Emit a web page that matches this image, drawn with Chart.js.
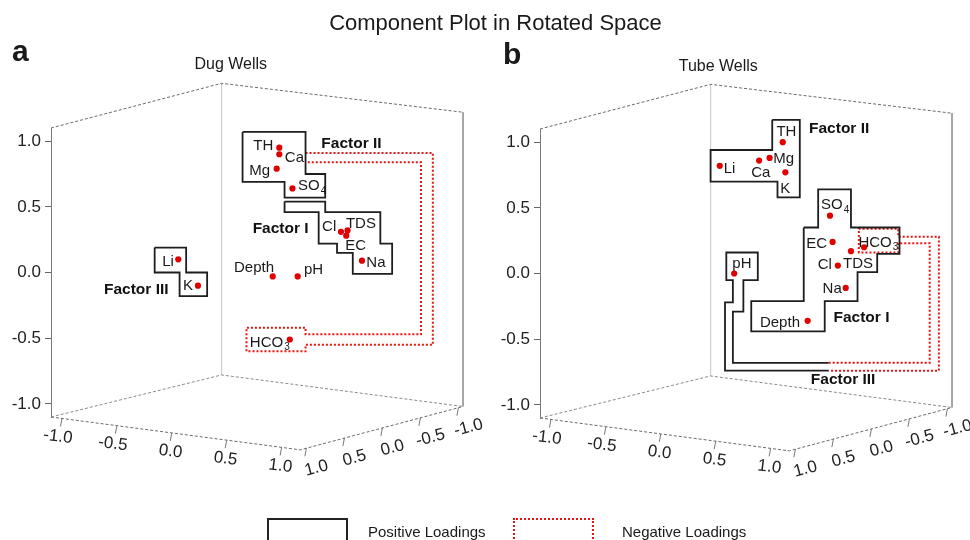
<!DOCTYPE html>
<html>
<head>
<meta charset="utf-8">
<title>Component Plot in Rotated Space</title>
<script src="https://cdn.jsdelivr.net/npm/chart.js@4.4.1/dist/chart.umd.min.js"></script>
<style>
  html, body { margin: 0; padding: 0; background: #fff; }
  body { width: 970px; height: 540px; position: relative; overflow: hidden; font-family: 'Liberation Sans', Arial, sans-serif; color: #1a1a1a; }
  canvas { position: absolute; }
  .abs { position: absolute; white-space: nowrap; }
  .box { position: absolute; box-sizing: border-box; width: 81px; height: 40px; }
</style>
</head>
<body>
<canvas id="dugChart" width="500" height="540" style="left:0;top:0"></canvas>
<canvas id="tubeChart" width="500" height="540" style="left:489px;top:1px"></canvas>

<div class="abs" style="left:495.5px;top:12px;font-size:22px;line-height:22px;transform:translateX(-50%)">Component Plot in Rotated Space</div>
<div class="abs" style="left:12px;top:35.6px;font-size:30px;line-height:30px;font-weight:bold">a</div>
<div class="abs" style="left:503px;top:38.6px;font-size:30px;line-height:30px;font-weight:bold">b</div>
<div class="abs" style="left:230.8px;top:56.2px;font-size:16px;line-height:16px;transform:translateX(-50%)">Dug Wells</div>
<div class="abs" style="left:718.3px;top:58.2px;font-size:16px;line-height:16px;transform:translateX(-50%)">Tube Wells</div>

<div class="box" style="left:267px;top:518px;border:2px solid #222"></div>
<div class="abs" style="left:368px;top:524px;font-size:15px;line-height:15px">Positive Loadings</div>
<div class="box" style="left:513px;top:518px;border:2px dotted #e8140f"></div>
<div class="abs" style="left:622px;top:524px;font-size:15px;line-height:15px">Negative Loadings</div>

<script>
// ---- data ----
const tickValues = [-1.0, -0.5, 0.0, 0.5, 1.0];

// Dug wells: horizontal projected position and vertical loading
const dugNames = ['TH', 'Ca', 'Mg', 'SO4', 'Cl', 'TDS', 'EC', 'Na', 'Li', 'K', 'Depth', 'pH', 'HCO3'];
const dugProjX = [0.64, 0.64, 0.62, 0.74, 1.11, 1.16, 1.15, 1.27, -0.13, 0.02, 0.59, 0.78, 0.72];
const dugLoading = [0.95, 0.90, 0.79, 0.64, 0.31, 0.32, 0.28, 0.09, 0.10, -0.10, -0.03, -0.03, -0.51];

// Tube wells
const tubeNames = ['TH', 'Mg', 'Ca', 'Li', 'K', 'SO4', 'EC', 'HCO3', 'TDS', 'Cl', 'Na', 'pH', 'Depth'];
const tubeProjX = [0.75, 0.65, 0.57, 0.27, 0.77, 1.11, 1.13, 1.37, 1.27, 1.17, 1.23, 0.38, 0.94];
const tubeLoading = [1.00, 0.88, 0.86, 0.82, 0.77, 0.44, 0.24, 0.20, 0.17, 0.06, -0.11, 0.00, -0.36];

// factor group outlines (projected x, loading)
const dugFactor2Pos = [[0.36, 1.07], [0.84, 1.07], [0.84, 0.75], [0.99, 0.75], [0.99, 0.57], [0.68, 0.57], [0.68, 0.69], [0.36, 0.69]];
const dugFactor1Pos = [[0.68, 0.54], [0.99, 0.54], [0.99, 0.46], [1.41, 0.46], [1.41, 0.22], [1.50, 0.22], [1.50, -0.01], [1.20, -0.01], [1.20, 0.15], [1.08, 0.15], [1.08, 0.22], [0.94, 0.22], [0.94, 0.46], [0.68, 0.46]];
const dugFactor3Pos = [[-0.31, 0.19], [-0.07, 0.19], [-0.07, 0.0], [0.09, 0.0], [0.09, -0.18], [-0.12, -0.18], [-0.12, 0.0], [-0.31, 0.0]];
const dugFactor2Neg = [[0.84, 0.91], [1.81, 0.91], [1.81, -0.55], [0.84, -0.55], [0.84, -0.60], [0.39, -0.60], [0.39, -0.42], [0.84, -0.42], [0.84, -0.47], [1.72, -0.47], [1.72, 0.84], [0.84, 0.84]];

const tubeFactor2Pos = [[0.67, 1.17], [0.88, 1.17], [0.88, 0.58], [0.71, 0.58], [0.71, 0.70], [0.20, 0.70], [0.20, 0.94], [0.67, 0.94]];
const tubeFactor1Pos = [[0.91, 0.35], [1.02, 0.35], [1.02, 0.64], [1.27, 0.64], [1.27, 0.35], [1.64, 0.35], [1.64, 0.15], [1.47, 0.15], [1.47, 0.01], [1.32, 0.01], [1.32, -0.21], [1.07, -0.21], [1.07, -0.44], [0.51, -0.44], [0.51, -0.21], [0.91, -0.21]];
const tubeFactor3Pos = [[1.10, -0.74], [0.31, -0.74], [0.31, -0.22], [0.37, -0.22], [0.37, -0.05], [0.32, -0.05], [0.32, 0.16], [0.56, 0.16], [0.56, -0.05], [0.45, -0.05], [0.45, -0.29], [0.37, -0.29], [0.37, -0.68], [1.10, -0.68]];
const tubeFactor2Neg = [[1.10, -0.68], [1.87, -0.68], [1.87, 0.23], [1.63, 0.23], [1.63, 0.16], [1.33, 0.16], [1.33, 0.34], [1.63, 0.34], [1.63, 0.28], [1.94, 0.28], [1.94, -0.74], [1.10, -0.74]];

// 3D box corners in the same projected space
const frameTop = [[-1.1, 1.1], [0.20, 1.44], [2.04, 1.22]];
const frameBackEdge = [[0.20, 1.44], [0.20, -0.78]];
const frameRightEdge = [[2.04, 1.22], [2.04, -1.02]];
const frameFloorBack = [[-1.1, -1.1], [0.20, -0.78], [2.04, -1.02]];
const frameFloorFront = [[-1.1, -1.1], [0.80, -1.35], [2.04, -1.02]];
const floorLeftSpan = [-1.1, 1.17];
const floorRightSpan = [1.08, -1.06];

// ---- layout / style ----
const FONT = "'Liberation Sans', Arial, sans-serif";
const INK = '#1a1a1a';
const RED = '#e8140f';

const dugLabelPos = {
  TH: [-6, -3, 'right'], Ca: [5.5, 2, 'left'], Mg: [-6.6, 0.7, 'right'], SO4: [5.6, -3.5, 'left'],
  Cl: [-4.7, -6, 'right'], TDS: [-1.6, -8, 'left'], EC: [-1, 9, 'left'], Na: [4.4, 1, 'left'],
  Li: [-4.4, 1, 'right'], K: [-5, -0.7, 'right'], Depth: [-18.7, -10, 'center'], pH: [6.3, -7.7, 'left'],
  HCO3: [-40, 2, 'left'],
};
const tubeLabelPos = {
  TH: [3.7, -11, 'center'], Mg: [3.7, 0, 'left'], Ca: [1.7, 11, 'center'], Li: [4, 2, 'left'],
  K: [0, 15, 'center'], SO4: [-9, -12, 'left'], EC: [-5.4, 0.5, 'right'], HCO3: [-5.7, -6, 'left'],
  TDS: [-8, 12, 'left'], Cl: [-6, -2, 'right'], Na: [-4, 0, 'right'], pH: [7.7, -11, 'center'],
  Depth: [-7.7, 0.7, 'right'],
};
const dugFactorLabels = [['Factor I', 0.65, 0.33], ['Factor II', 1.19, 0.98], ['Factor III', -0.45, -0.13]];
const tubeFactorLabels = [['Factor I', 1.35, -0.34], ['Factor II', 1.18, 1.10], ['Factor III', 1.21, -0.81]];

function toPoints(pairs, close) {
  const pts = pairs.map(([x, y]) => ({ x, y }));
  if (close) pts.push({ ...pts[0] });
  return pts;
}

function outline(pairs, close, style) {
  return {
    data: toPoints(pairs, close),
    showLine: true,
    pointRadius: 0,
    pointHoverRadius: 0,
    fill: false,
    clip: false,
    borderJoinStyle: 'miter',
    order: 1,
    ...style,
  };
}

const solidBox = { borderColor: '#1e1e1e', borderWidth: 1.8 };
const dottedBox = { borderColor: RED, borderWidth: 2, borderDash: [2, 2] };
const frameDashed = { borderColor: '#6a6a6a', borderWidth: 1, borderDash: [3, 2], order: 2 };

function frameDatasets() {
  return [
    outline(frameTop, false, frameDashed),
    outline(frameFloorBack, false, { ...frameDashed, borderColor: '#8a8a8a' }),
    outline(frameFloorFront, false, frameDashed),
    outline(frameBackEdge, false, { borderColor: '#cdcdcd', borderWidth: 1, order: 2 }),
    outline(frameRightEdge, false, { borderColor: '#9a9a9a', borderWidth: 1, order: 2 }),
  ];
}

function drawChem(ctx, name, cx, cy, align) {
  const m = name.match(/^(.*?)(\d+)$/);
  const main = m ? m[1] : name;
  const sub = m ? m[2] : '';
  ctx.font = `15px ${FONT}`;
  const wMain = ctx.measureText(main).width;
  ctx.font = `10px ${FONT}`;
  const wSub = sub ? ctx.measureText(sub).width + 1 : 0;
  const total = wMain + wSub;
  let left = cx;
  if (align === 'right') left = cx - total;
  else if (align === 'center') left = cx - total / 2;
  const base = cy + 5.3;
  ctx.textAlign = 'left';
  ctx.textBaseline = 'alphabetic';
  ctx.font = `15px ${FONT}`;
  ctx.fillText(main, left, base);
  if (sub) {
    ctx.font = `10px ${FONT}`;
    ctx.fillText(sub, left + wMain + 1, base + 3.5);
  }
}

function drawFloorAxis(ctx, xs, ys, from, to, span, shift, angle, align) {
  tickValues.forEach((v) => {
    const t = (v - span[0]) / (span[1] - span[0]);
    const px = xs.getPixelForValue(from[0] + t * (to[0] - from[0]));
    const py = ys.getPixelForValue(from[1] + t * (to[1] - from[1]));
    ctx.strokeStyle = '#777';
    ctx.lineWidth = 1;
    ctx.beginPath();
    ctx.moveTo(px, py);
    ctx.lineTo(px - 1.5, py + 8);
    ctx.stroke();
    ctx.save();
    ctx.translate(px + shift[0], py + shift[1]);
    ctx.rotate((angle * Math.PI) / 180);
    ctx.textAlign = align;
    ctx.textBaseline = 'middle';
    ctx.font = `17px ${FONT}`;
    ctx.fillStyle = '#222';
    ctx.fillText(v.toFixed(1), 0, 0);
    ctx.restore();
  });
}

const annotate = {
  id: 'annotate',
  afterDatasetsDraw(chart, args, opts) {
    const { ctx } = chart;
    const xs = chart.scales.x;
    const ys = chart.scales.y;
    ctx.save();
    ctx.fillStyle = INK;
    opts.names.forEach((name, i) => {
      const [dx, dy, align] = opts.labelPos[name];
      drawChem(ctx, name, xs.getPixelForValue(opts.xs[i]) + dx, ys.getPixelForValue(opts.ys[i]) + dy, align);
    });
    ctx.font = `bold 15.5px ${FONT}`;
    ctx.textAlign = 'center';
    ctx.textBaseline = 'middle';
    ctx.fillStyle = '#111';
    opts.factors.forEach(([text, fx, fy]) => {
      ctx.fillText(text, xs.getPixelForValue(fx), ys.getPixelForValue(fy));
    });
    const [lb, front, rb] = frameFloorFront;
    drawFloorAxis(ctx, xs, ys, lb, front, floorLeftSpan, [10.5, 20], 7, 'right');
    drawFloorAxis(ctx, xs, ys, front, rb, floorRightSpan, [10, 20], -15, 'center');
    ctx.restore();
  },
};

function makeChart(canvasId, cfg) {
  const points = {
    data: cfg.xs.map((x, i) => ({ x, y: cfg.ys[i] })),
    pointRadius: 3.1,
    pointHoverRadius: 3.1,
    pointBackgroundColor: '#e00000',
    pointBorderWidth: 0,
    showLine: false,
    clip: false,
    order: 0,
  };
  const boxes = [
    ...cfg.positive.map(([pairs, close]) => outline(pairs, close, solidBox)),
    ...cfg.negative.map((pairs) => outline(pairs, false, dottedBox)),
  ];
  return new Chart(document.getElementById(canvasId), {
    type: 'scatter',
    data: { datasets: [points, ...boxes, ...frameDatasets()] },
    options: {
      responsive: false,
      animation: false,
      devicePixelRatio: 1,
      events: [],
      layout: { padding: { left: 0, right: 37, top: 128, bottom: 123 } },
      plugins: {
        legend: { display: false },
        tooltip: { enabled: false },
        annotate: { names: cfg.names, xs: cfg.xs, ys: cfg.ys, labelPos: cfg.labelPos, factors: cfg.factors },
      },
      scales: {
        x: { type: 'linear', display: false, min: -1.1, max: 2.04 },
        y: {
          type: 'linear',
          min: -1.1,
          max: 1.1,
          afterBuildTicks: (axis) => { axis.ticks = tickValues.map((value) => ({ value })); },
          afterFit: (axis) => { axis.width = 51; },
          border: { display: true, color: '#7a7a7a', width: 1 },
          grid: { drawOnChartArea: false, drawTicks: true, tickLength: 6, color: '#666' },
          ticks: {
            font: { family: FONT, size: 17 },
            color: '#222',
            padding: 4,
            callback: (v) => Number(v).toFixed(1),
          },
        },
      },
    },
    plugins: [annotate],
  });
}

makeChart('dugChart', {
  names: dugNames, xs: dugProjX, ys: dugLoading, labelPos: dugLabelPos, factors: dugFactorLabels,
  positive: [[dugFactor2Pos, true], [dugFactor1Pos, true], [dugFactor3Pos, true]],
  negative: [dugFactor2Neg],
});

makeChart('tubeChart', {
  names: tubeNames, xs: tubeProjX, ys: tubeLoading, labelPos: tubeLabelPos, factors: tubeFactorLabels,
  positive: [[tubeFactor2Pos, true], [tubeFactor1Pos, true], [tubeFactor3Pos, false]],
  negative: [tubeFactor2Neg],
});
</script>
</body>
</html>
